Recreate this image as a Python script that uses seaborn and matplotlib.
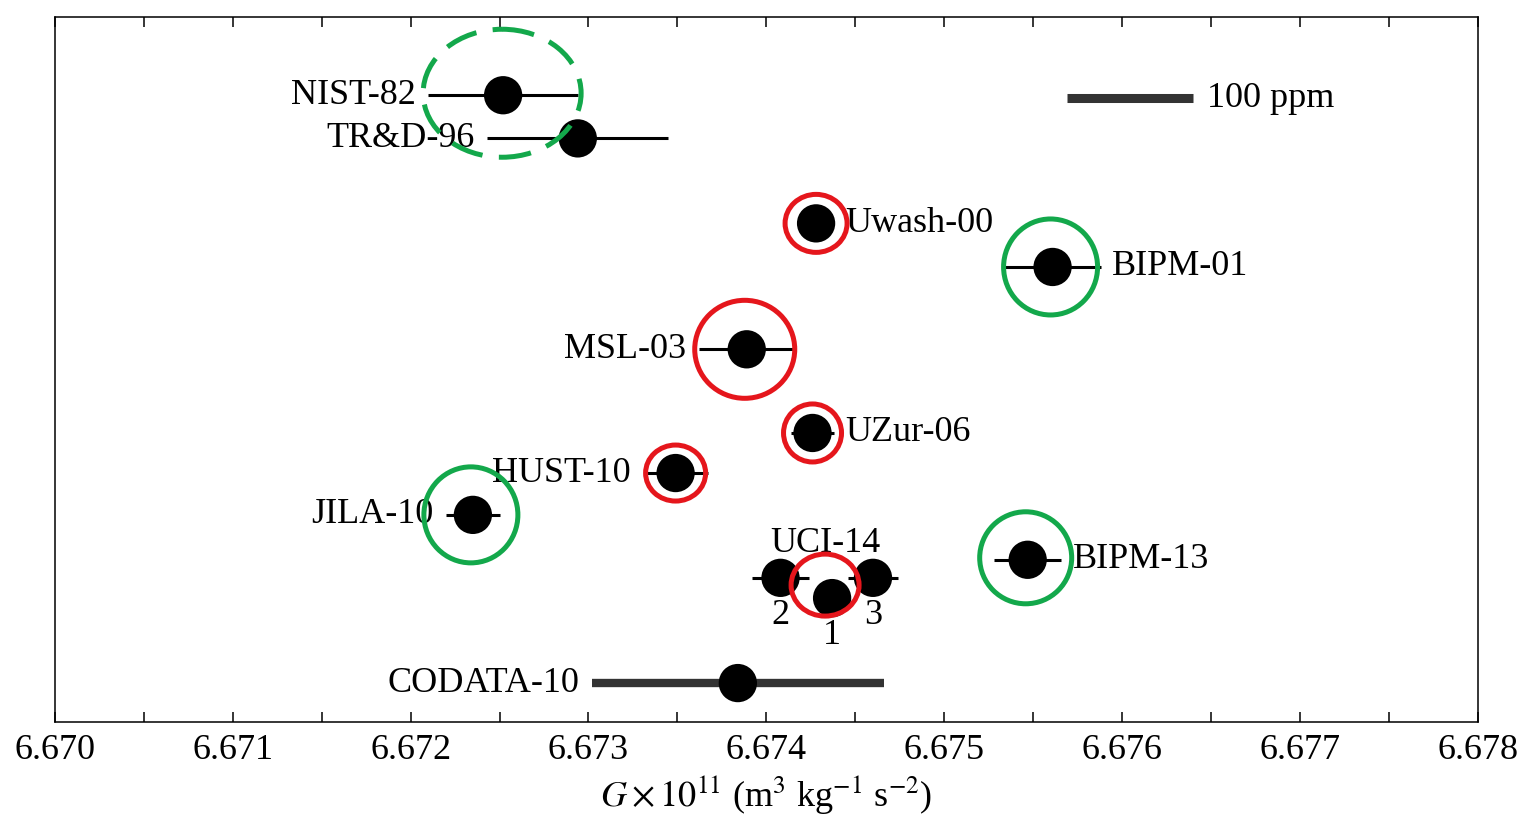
import matplotlib
matplotlib.use('Agg')
import matplotlib.pyplot as plt
from matplotlib.patches import Ellipse
import matplotlib.ticker as ticker
import pandas as pd
import seaborn as sns

sns.set_style('white')
plt.rcParams['font.family'] = ['Liberation Serif', 'DejaVu Serif']
plt.rcParams['mathtext.fontset'] = 'stix'
plt.rcParams['text.color'] = 'black'
plt.rcParams['axes.labelcolor'] = 'black'
plt.rcParams['xtick.color'] = 'black'

names = ['NIST-82', 'TR&D-96', 'Uwash-00', 'BIPM-01', 'MSL-03', 'UZur-06',
         'HUST-10', 'JILA-10', 'BIPM-13', 'UCI-14 2', 'UCI-14 1', 'UCI-14 3',
         'CODATA-10']
g_vals = [6.67252, 6.67294, 6.67428, 6.67561, 6.67389, 6.67426,
          6.67349, 6.67235, 6.67547, 6.67408, 6.67437, 6.67460,
          6.67384]
g_err = [0.00042, 0.00051, 0.00009, 0.00027, 0.00027, 0.00012,
         0.00018, 0.00015, 0.00019, 0.00016, 0.00010, 0.00014,
         0.00082]
rows = [1.77, 2.75, 4.68, 5.67, 7.54, 9.44,
        10.35, 11.30, 12.32, 12.73, 13.19, 12.73,
        15.12]

# scale bar: 100 ppm
ppm_bar = [6.67569, 6.67640]
ppm_row = 1.84

xticks_major = [6.670, 6.671, 6.672, 6.673, 6.674, 6.675, 6.676, 6.677, 6.678]

df = pd.DataFrame({'name': names, 'G': g_vals, 'err': g_err, 'row': rows})

fig = plt.figure(figsize=(15.28, 8.24), dpi=100)
ax = fig.add_axes([0.036, 0.124, 0.931, 0.855])
ax.set_xlim(6.670, 6.678)
ax.set_ylim(16, 0)

# px -> data conversions for annotation shapes
px_x = 0.008 / (0.931 * 1528)
px_y = 16 / (0.855 * 824)

# error bars
for _, r in df.iterrows():
    if r['name'] == 'CODATA-10':
        ax.plot([r.G - r.err, r.G + r.err], [r.row, r.row], color='#333333',
                lw=6, solid_capstyle='butt', zorder=2)
    else:
        ax.plot([r.G - r.err, r.G + r.err], [r.row, r.row], color='black',
                lw=2.2, solid_capstyle='butt', zorder=2)

sns.scatterplot(data=df, x='G', y='row', color='black', s=760, marker='o',
                edgecolor='none', ax=ax, zorder=3, legend=False)

# labels beside bars
side = {'NIST-82': 'L', 'TR&D-96': 'L', 'Uwash-00': 'R', 'BIPM-01': 'R',
        'MSL-03': 'L', 'UZur-06': 'R', 'HUST-10': 'L', 'JILA-10': 'L',
        'BIPM-13': 'R', 'CODATA-10': 'L'}
for _, r in df.iterrows():
    if r['name'] in side:
        if side[r['name']] == 'L':
            ax.annotate(r['name'], xy=(r.G - r.err, r.row), xytext=(-9, 0),
                        textcoords='offset points', ha='right', va='center',
                        fontsize=26)
        else:
            ax.annotate(r['name'], xy=(max(r.G + r.err, r.G + 18 * px_x), r.row),
                        xytext=(8, 0), textcoords='offset points', ha='left',
                        va='center', fontsize=26)
    else:
        ax.annotate(r['name'].split()[1], xy=(r.G, r.row), xytext=(0, -27),
                    textcoords='offset points', ha='center', va='center',
                    fontsize=26)

uci = df[df['name'].str.startswith('UCI')]
ax.annotate('UCI-14', xy=(uci.G.mean(), uci.row.min()), xytext=(-2, 25),
            textcoords='offset points', ha='center', va='center', fontsize=26)

# 100 ppm bar
ax.plot(ppm_bar, [ppm_row, ppm_row], color='#333333', lw=6.5,
        solid_capstyle='butt')
ax.annotate('100 ppm', xy=(ppm_bar[1], ppm_row), xytext=(10, 0),
            textcoords='offset points', ha='left', va='center', fontsize=26)

# highlight circles: name, colour, rx px, ry px, dx px, dy px, dashed
red = '#e5161c'
green = '#13a84b'
circles = [('NIST-82', green, 79, 64, -1, -2, True),
           ('Uwash-00', red, 31, 29, 0, 0, False),
           ('BIPM-01', green, 47, 48, -2, 0, False),
           ('MSL-03', red, 50, 49, -2, 0, False),
           ('UZur-06', red, 29, 29, 0, 0, False),
           ('HUST-10', red, 30, 28, 0, 0, False),
           ('JILA-10', green, 47, 48, -2, 0, False),
           ('BIPM-13', green, 46, 46, -2, -2, False),
           ('UCI-14 1', red, 34, 31, -7, -13, False)]
for nm, col, rx, ry, dx, dy, dashed in circles:
    r = df[df['name'] == nm].iloc[0]
    e = Ellipse((r.G + dx * px_x, r.row + dy * px_y), 2 * rx * px_x, 2 * ry * px_y,
                fill=False, edgecolor=col, lw=3.6, zorder=4,
                linestyle=(0, (6.5, 3.3)) if dashed else '-')
    ax.add_patch(e)

# axes styling
ax.xaxis.set_major_locator(ticker.FixedLocator(xticks_major))
ax.xaxis.set_minor_locator(ticker.MultipleLocator(0.0005))
ax.xaxis.set_major_formatter(ticker.FormatStrFormatter('%.3f'))
ax.tick_params(axis='x', which='both', direction='in', top=True, bottom=True,
               length=7, width=1.1, labelsize=26, pad=9)
ax.set_yticks([])
for s in ax.spines.values():
    s.set_linewidth(1.1)
    s.set_color('black')
ax.set_xlabel(r'$G \times 10^{11}$ (m$^{3}$ kg$^{-1}$ s$^{-2}$)', fontsize=26,
              labelpad=4)
ax.set_ylabel('')

fig.savefig('out.png', dpi=100)
plt.close()
